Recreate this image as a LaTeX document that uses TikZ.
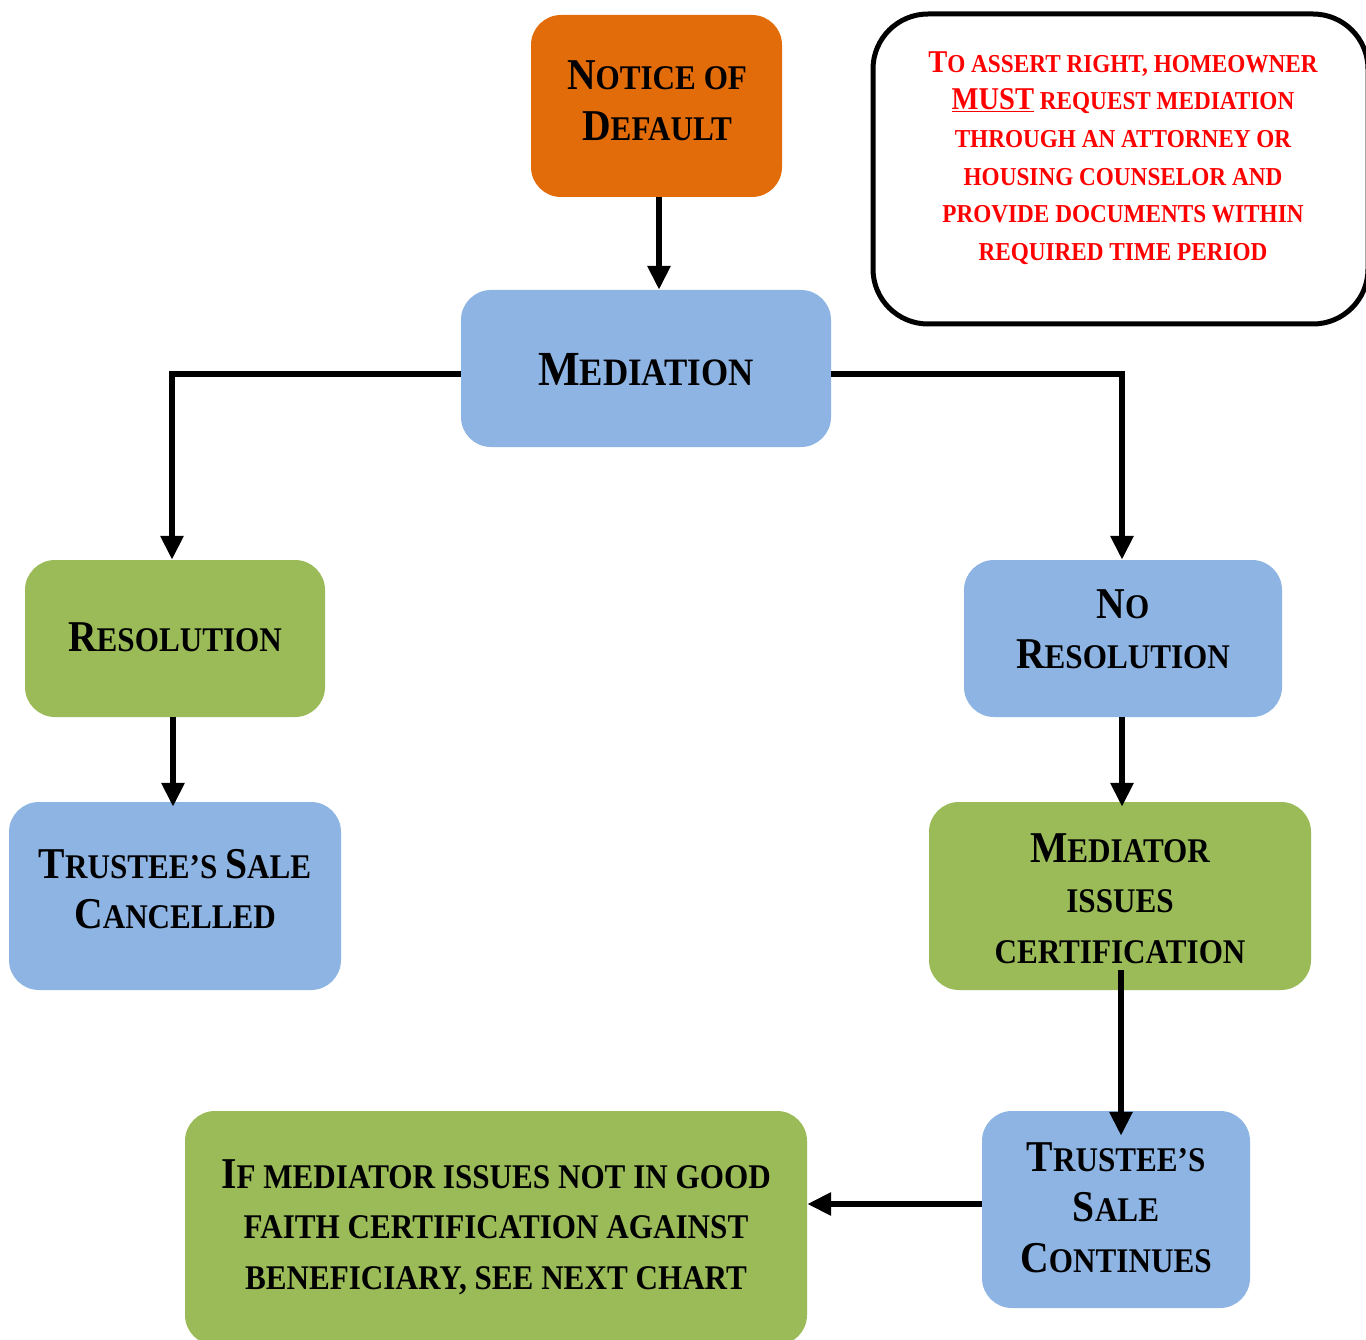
\documentclass[tikz,border=0pt]{standalone}
\usepackage{fontspec}
\setmainfont{Liberation Serif}[FakeStretch=0.9]
\usetikzlibrary{arrows.meta}
\definecolor{orng}{HTML}{E36C0A}
\definecolor{blu}{HTML}{8EB4E3}
\definecolor{grn}{HTML}{9BBB59}
\definecolor{rd}{HTML}{FF0000}
\newcommand\capsz{44}
\newcommand\C[1]{{\fontsize{\capsz}{\capsz}\selectfont #1}}
\newcommand\ul[1]{\underline{#1}}
\tikzset{
  box/.style={rounded corners=30pt, inner sep=0pt},
  txt/.style={inner sep=0pt, align=center,
    font=\bfseries\fontsize{34.6}{50.5}\selectfont},
  bigtxt/.style={inner sep=0pt, align=center,
    font=\bfseries\fontsize{38.8}{50}\selectfont\def\capsz{49}},
  conn/.style={line width=6pt, -{Triangle[length=24pt,width=22pt]}},
}
\begin{document}
\begin{tikzpicture}[x=1pt,y=-1pt]
\clip (0,0) rectangle (1366,1340);
\fill[white] (0,0) rectangle (1366,1340);
% boxes
\node[box, fill=orng, minimum width=251pt, minimum height=182pt] (notice) at (656.5,106) {};
\node[txt] (noticeT) at (657,101) {\C{N}OTICE OF\\\C{D}EFAULT};
\node[box, fill=blu, minimum width=370pt, minimum height=157pt] (med) at (646,368.5) {};
\node[bigtxt] (medT) at (646,370) {\C{M}EDIATION};
\node[box, fill=grn, minimum width=300pt, minimum height=157pt] (res) at (175,638.5) {};
\node[txt] (resT) at (175,637) {\C{R}ESOLUTION};
\node[box, fill=blu, minimum width=318pt, minimum height=157pt] (nores) at (1123,638.5) {};
\node[txt] (noresT) at (1123,629.5) {\C{N}O\\\C{R}ESOLUTION};
\node[box, fill=blu, minimum width=332pt, minimum height=188pt] (canc) at (175,896) {};
\node[txt] (cancT) at (175,889) {\C{T}RUSTEE'S \C{S}ALE\\\C{C}ANCELLED};
\node[box, fill=grn, minimum width=382pt, minimum height=188pt] (cert) at (1120,896) {};
\node[txt] (certT) at (1120,898.5) {\C{M}EDIATOR\\ISSUES\\CERTIFICATION};
\node[box, fill=blu, minimum width=268pt, minimum height=197pt] (cont) at (1116,1209.5) {};
\node[txt] (contT) at (1116,1207.5) {\C{T}RUSTEE'S\\\C{S}ALE\\\C{C}ONTINUES};
\node[box, fill=grn, minimum width=622pt, minimum height=234pt] (ifm) at (496,1228) {};
\node[txt] (ifmT) at (496,1227) {\C{I}F MEDIATOR ISSUES NOT IN GOOD\\FAITH CERTIFICATION AGAINST\\BENEFICIARY, SEE NEXT CHART};
\node[draw=black, line width=5pt, rounded corners=55pt, minimum width=495pt, minimum height=310pt, inner sep=0pt] (note) at (1120.5,169) {};
\node[inner sep=0pt, align=center, text=rd,
  font=\bfseries\fontsize{25.8}{37.6}\selectfont\def\capsz{31.7}] (noteT) at (1123,158)
  {\C{T}O ASSERT RIGHT, HOMEOWNER\\\C{\ul{MUST}} REQUEST MEDIATION\\THROUGH AN ATTORNEY OR\\HOUSING COUNSELOR AND\\PROVIDE DOCUMENTS WITHIN\\REQUIRED TIME PERIOD};
% connectors
\draw[conn] ([xshift=2.5pt]notice.south) coordinate (ns) -- (ns |- med.north);
\draw[conn] ([yshift=-5.5pt]med.west) -| ([xshift=-3pt]res.north);
\draw[conn] ([yshift=-5.5pt]med.east) -| ([xshift=-1pt]nores.north);
\draw[conn, shorten >=-5pt] ([xshift=-2pt]res.south) coordinate (rs) -- (rs |- canc.north);
\draw[conn, shorten >=-5pt] ([xshift=-1pt]nores.south) coordinate (nrs) -- (nrs |- cert.north);
\draw[conn, shorten >=-25pt] ([xshift=1pt,yshift=20pt]cert.south) coordinate (cs) -- (cs |- cont.north);
\draw[conn] ([yshift=5.5pt]cont.west) coordinate (cw) -- (cw -| ifm.east);
\end{tikzpicture}
\end{document}
